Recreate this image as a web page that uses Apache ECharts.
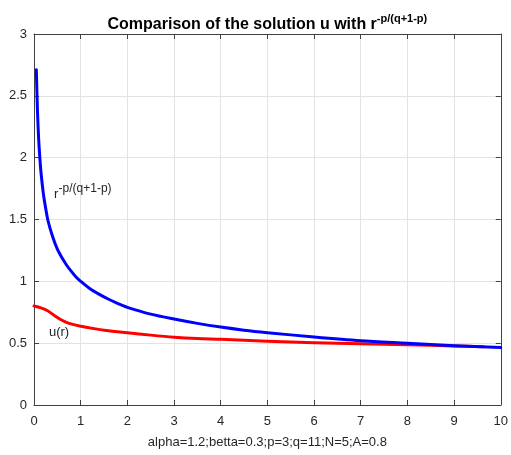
<!DOCTYPE html>
<html><head><meta charset="utf-8">
<script src="https://cdn.jsdelivr.net/npm/echarts@6/dist/echarts.min.js"></script>
<style>html,body{margin:0;padding:0;background:#fff}#c{width:511px;height:455px}</style>
</head><body><div id="c"></div>
<script>
const xTicks = [0,1,2,3,4,5,6,7,8,9,10];
const yTicks = [0,0.5,1,1.5,2,2.5,3];
const blueR = [0.05,0.075,0.1,0.125,0.15,0.2,0.25,0.3,0.4,0.5,0.6,0.7,0.8,0.9,1,1.2,1.4,1.6,1.8,2,2.5,3,3.5,4,4.5,5,6,7,8,9,10];
const blueV = [2.71,2.37,2.15,2.0,1.88,1.71,1.59,1.49,1.36,1.26,1.19,1.13,1.08,1.035,1.0,0.94,0.895,0.855,0.82,0.79,0.735,0.695,0.66,0.63,0.605,0.585,0.55,0.52,0.50,0.48,0.465];
const redR = [0,0.15,0.3,0.45,0.6,0.75,1,1.25,1.5,2,2.5,3,3.5,4,5,6,7,8,9,9.63];
const redV = [0.80,0.785,0.76,0.72,0.685,0.66,0.637,0.62,0.605,0.585,0.565,0.548,0.537,0.531,0.515,0.504,0.496,0.488,0.477,0.472];
const titleMain = 'Comparison of the solution u with r';
const titleSup = '-p/(q+1-p)';
const xName = 'alpha=1.2;betta=0.3;p=3;q=11;N=5;A=0.8';
const labelBlue = ['r', '-p/(q+1-p)'];
const labelBlueAt = [0.43, 1.70];
const labelRed = 'u(r)';
const labelRedAt = [0.32, 0.59];

const FONT = 'Liberation Sans, Arial, Helvetica, sans-serif';
const axisCol = '#262626';
const lineCol = '#404040';
const chart = echarts.init(document.getElementById('c'), null, {renderer:'canvas'});
const mkAxis = (show, margin) => ({
  axisLine:{show:true,onZero:false,lineStyle:{color:lineCol,width:1}},
  axisTick:{show:true,inside:true,length:5,lineStyle:{color:lineCol}},
  axisLabel:{show:show,color:axisCol,fontSize:13,fontFamily:FONT,margin:margin||8},
});
chart.setOption({
  animation:false,
  grid:{left:34,right:7,top:34,bottom:50,containLabel:false},
  xAxis:[
    Object.assign({type:'value',min:0,max:10,interval:1,position:'bottom',
      name:xName,nameLocation:'middle',nameGap:31,
      nameTextStyle:{color:axisCol,fontSize:13,fontFamily:FONT},
      splitLine:{show:true,lineStyle:{color:'#e3e3e3'}}}, mkAxis(true,10)),
    Object.assign({type:'value',min:0,max:10,interval:1,position:'top',splitLine:{show:false}}, mkAxis(false))
  ],
  yAxis:[
    Object.assign({type:'value',min:0,max:3,interval:0.5,position:'left',
      splitLine:{show:true,lineStyle:{color:'#e3e3e3'}}}, mkAxis(true,7)),
    Object.assign({type:'value',min:0,max:3,interval:0.5,position:'right',splitLine:{show:false}}, mkAxis(false))
  ],
  series:[
    {type:'line',data:redR.map((r,i)=>[r,redV[i]]),smooth:0.3,showSymbol:false,
     lineStyle:{color:'#ff0000',width:3,join:'round',cap:'round'},z:2},
    {type:'line',data:blueR.map((r,i)=>[r,blueV[i]]),smooth:0.3,showSymbol:false,
     lineStyle:{color:'#0000ff',width:3,join:'round',cap:'round'},z:3}
  ]
});
const pb = chart.convertToPixel({gridIndex:0}, labelBlueAt);
const pr = chart.convertToPixel({gridIndex:0}, labelRedAt);
const p0 = chart.convertToPixel({gridIndex:0}, [0,3]);
const p1 = chart.convertToPixel({gridIndex:0}, [10,3]);
chart.setOption({graphic:[
  {type:'text',x:(p0[0]+p1[0])/2,y:p0[1]-21,style:{
    text:'{a|'+titleMain+'}{b|'+titleSup+'}',align:'center',verticalAlign:'top',
    rich:{a:{fontSize:16,fontWeight:'bold',fontFamily:FONT,fill:'#000',lineHeight:20,verticalAlign:'bottom'},
          b:{fontSize:11,fontWeight:'bold',fontFamily:FONT,fill:'#000',lineHeight:11,verticalAlign:'top'}}}},
  {type:'text',x:pb[0],y:pb[1],style:{text:labelBlue[0],fontSize:13,fontFamily:FONT,fill:axisCol,align:'left',verticalAlign:'middle'}},
  {type:'text',x:pb[0]+4.5,y:pb[1]-6,style:{text:labelBlue[1],fontSize:12,fontFamily:FONT,fill:axisCol,align:'left',verticalAlign:'middle'}},
  {type:'text',x:pr[0],y:pr[1],style:{text:labelRed,fontSize:13,fontFamily:FONT,fill:axisCol,align:'left',verticalAlign:'middle'}}
]});
</script></body></html>
